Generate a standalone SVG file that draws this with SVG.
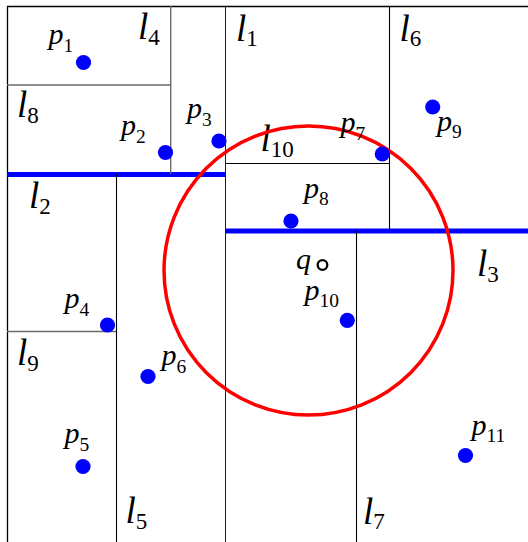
<svg xmlns="http://www.w3.org/2000/svg" width="528" height="542" viewBox="0 0 528 542">
<style>
.frame{stroke:#000;stroke-width:1.3;fill:none}
.cut{stroke:#000;stroke-width:1.1;fill:none}
.grey{stroke:#6a6a6a;stroke-width:1.4;fill:none}
.thin-blue{stroke:#0000ff;stroke-width:1;fill:none}
.thick-blue{stroke:#0000ff;stroke-width:5;fill:none}
.pt{fill:#0000ff}
text{font-family:'Liberation Serif','DejaVu Serif',serif;fill:#000}
.lm{font-style:italic;font-size:37px}
.ls{font-style:normal;font-size:23px}
.pm{font-style:italic;font-size:30px}
.ps{font-style:normal;font-size:19.5px}
</style>
<rect width="528" height="542" fill="#fff"/>
<g id="frame">
<path class="frame" d="M7.5,542 V6.5 H528"/>
</g>
<g id="lines">
<g id="line-l1"><line class="thin-blue" x1="225.5" y1="6" x2="225.5" y2="542"/><text x="236" y="41" font-family="Liberation Serif, serif"><tspan class="lm">l</tspan><tspan class="ls" dy="4.5">1</tspan></text></g>
<g id="line-l2"><line class="thick-blue" x1="7" y1="174.5" x2="226" y2="174.5"/><text x="29" y="208" font-family="Liberation Serif, serif"><tspan class="lm">l</tspan><tspan class="ls" dy="5.5">2</tspan></text></g>
<g id="line-l3"><line class="thick-blue" x1="226" y1="231" x2="528" y2="231"/><text x="477" y="276" font-family="Liberation Serif, serif"><tspan class="lm">l</tspan><tspan class="ls" dy="6">3</tspan></text></g>
<g id="line-l4"><line class="grey" x1="170.7" y1="6" x2="170.7" y2="174"/><text x="138" y="38.5" font-family="Liberation Serif, serif"><tspan class="lm">l</tspan><tspan class="ls" dy="6.5">4</tspan></text></g>
<g id="line-l5"><line class="cut" x1="116.5" y1="174" x2="116.5" y2="542"/><text x="125.5" y="523" font-family="Liberation Serif, serif"><tspan class="lm">l</tspan><tspan class="ls" dy="5.5">5</tspan></text></g>
<g id="line-l6"><line class="cut" x1="389.5" y1="6" x2="389.5" y2="231"/><text x="399.5" y="41" font-family="Liberation Serif, serif"><tspan class="lm">l</tspan><tspan class="ls" dy="5">6</tspan></text></g>
<g id="line-l7"><line class="cut" x1="356.5" y1="231" x2="356.5" y2="542"/><text x="363" y="524" font-family="Liberation Serif, serif"><tspan class="lm">l</tspan><tspan class="ls" dy="4.5">7</tspan></text></g>
<g id="line-l8"><line class="grey" x1="7" y1="85" x2="171" y2="85"/><text x="17" y="116.5" font-family="Liberation Serif, serif"><tspan class="lm">l</tspan><tspan class="ls" dy="6.5">8</tspan></text></g>
<g id="line-l9"><line class="grey" x1="7" y1="331.5" x2="116" y2="331.5"/><text x="17" y="365" font-family="Liberation Serif, serif"><tspan class="lm">l</tspan><tspan class="ls" dy="6">9</tspan></text></g>
<g id="line-l10"><line class="cut" x1="226" y1="163.5" x2="389" y2="163.5"/><text x="260.5" y="151" font-family="Liberation Serif, serif"><tspan class="lm">l</tspan><tspan class="ls" dy="6">10</tspan></text></g>
</g>
<g id="query-circle">
<circle cx="308.5" cy="270.5" r="144.5" fill="none" stroke="#ff0000" stroke-width="3.5"/>
</g>
<g id="p1"><circle class="pt" cx="83.5" cy="62.5" r="7.6"/><text x="48.5" y="43.5" font-family="Liberation Serif, serif"><tspan class="pm">p</tspan><tspan class="ps" dy="8">1</tspan></text></g>
<g id="p2"><circle class="pt" cx="165.5" cy="152.5" r="7.6"/><text x="121" y="135" font-family="Liberation Serif, serif"><tspan class="pm">p</tspan><tspan class="ps" dy="8">2</tspan></text></g>
<g id="p3"><circle class="pt" cx="219" cy="141" r="7.6"/><text x="187" y="118" font-family="Liberation Serif, serif"><tspan class="pm">p</tspan><tspan class="ps" dy="8">3</tspan></text></g>
<g id="p4"><circle class="pt" cx="107.5" cy="325" r="7.6"/><text x="64.5" y="308" font-family="Liberation Serif, serif"><tspan class="pm">p</tspan><tspan class="ps" dy="8">4</tspan></text></g>
<g id="p5"><circle class="pt" cx="83" cy="466.5" r="7.6"/><text x="64.5" y="443" font-family="Liberation Serif, serif"><tspan class="pm">p</tspan><tspan class="ps" dy="8">5</tspan></text></g>
<g id="p6"><circle class="pt" cx="148" cy="376.5" r="7.6"/><text x="161.5" y="365" font-family="Liberation Serif, serif"><tspan class="pm">p</tspan><tspan class="ps" dy="8">6</tspan></text></g>
<g id="p7"><circle class="pt" cx="382.3" cy="154" r="7.6"/><text x="340.5" y="132" font-family="Liberation Serif, serif"><tspan class="pm">p</tspan><tspan class="ps" dy="8">7</tspan></text></g>
<g id="p8"><circle class="pt" cx="291" cy="221" r="7.6"/><text x="304" y="198" font-family="Liberation Serif, serif"><tspan class="pm">p</tspan><tspan class="ps" dy="7">8</tspan></text></g>
<g id="p9"><circle class="pt" cx="432.7" cy="107" r="7.6"/><text x="437" y="131" font-family="Liberation Serif, serif"><tspan class="pm">p</tspan><tspan class="ps" dy="7">9</tspan></text></g>
<g id="p10"><circle class="pt" cx="347.3" cy="320.3" r="7.6"/><text x="304.5" y="300" font-family="Liberation Serif, serif"><tspan class="pm">p</tspan><tspan class="ps" dy="7">10</tspan></text></g>
<g id="p11"><circle class="pt" cx="465.5" cy="455.5" r="7.6"/><text x="471.5" y="435" font-family="Liberation Serif, serif"><tspan class="pm">p</tspan><tspan class="ps" dy="7">11</tspan></text></g>
<g id="q"><circle cx="322.5" cy="265" r="4.8" fill="#fff" stroke="#000" stroke-width="2.3"/><text class="pm" x="296" y="268.5" font-family="Liberation Serif, serif">q</text></g>
</svg>
